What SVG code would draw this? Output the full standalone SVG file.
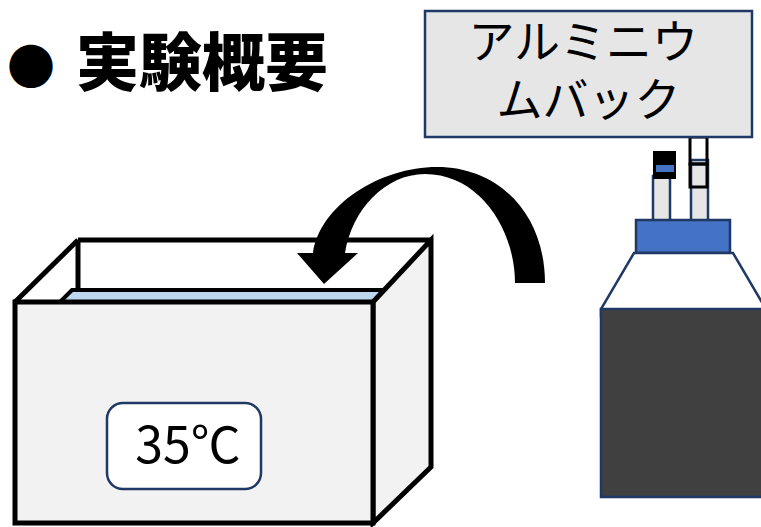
<svg xmlns="http://www.w3.org/2000/svg" width="761" height="527" viewBox="0 0 761 527">
  <style>
    .jp { font-family: "Noto Sans CJK JP", "Noto Sans", sans-serif; fill: #000; }
    .edge { stroke: #000; stroke-width: 5; stroke-linejoin: miter; }
    .navy { stroke: #1f3864; stroke-width: 2.5; }
  </style>
  <rect width="761" height="527" fill="#fff"/>

  <!-- title -->
  <g id="title">
    <text class="jp" x="7" y="84" font-size="48">●</text>
    <text class="jp" x="76" y="85" font-size="63" font-weight="900">実験概要</text>
  </g>

  <!-- incubator box -->
  <g id="incubator">
    <polygon points="15,302 78,240 431,240 373,302" fill="#fff"/>
    <line class="edge" x1="78" y1="240" x2="78" y2="290"/>
    <line class="edge" x1="78" y1="240" x2="431" y2="240"/>
    <line class="edge" x1="15" y1="302" x2="78" y2="240"/>
    <polygon points="60,302 72,290 385,290 373,302" fill="#bdd7ee" stroke="#000" stroke-width="4"/>
    <polygon class="edge" points="373,302 431,240 431,467 373,523" fill="#f2f2f2"/>
    <rect class="edge" x="15" y="302" width="358" height="221" fill="#f2f2f2"/>
  </g>

  <!-- temperature label -->
  <g id="temp">
    <rect x="107" y="403" width="154" height="86" rx="16" fill="#fff" class="navy"/>
    <text class="jp" x="188" y="463" font-size="50" text-anchor="middle">35℃</text>
  </g>

  <!-- bottle -->
  <g id="bottle">
    <rect x="653" y="176" width="17" height="46" fill="#e6e6e6" class="navy"/>
    <rect x="691" y="160" width="17" height="62" fill="#e6e6e6" class="navy"/>
    <rect x="653" y="151" width="23" height="28" fill="#000"/>
    <rect x="656" y="165" width="18" height="7" fill="#4472c4"/>
    <rect x="690" y="137" width="17" height="27" fill="none" stroke="#000" stroke-width="3"/>
    <rect x="690" y="164" width="17" height="23" fill="none" stroke="#000" stroke-width="3"/>
    <rect x="636" y="220" width="94" height="33" fill="#4472c4" class="navy"/>
    <polygon points="634,253 733,253 770,316 601,316 601,309" fill="#fff" class="navy"/>
    <rect x="601" y="309" width="200" height="188" fill="#404040" class="navy"/>
  </g>

  <!-- aluminium bag -->
  <g id="bag">
    <rect x="425" y="11" width="327" height="126" fill="#e6e6e6" class="navy"/>
    <text class="jp" font-size="46" text-anchor="middle">
      <tspan x="588.5" y="58">アルミニウ</tspan>
      <tspan x="588.5" y="116">ムバック</tspan>
    </text>
  </g>

  <!-- curved transfer arrow -->
  <g id="connectors">
    <path d="M545,283 C545,215 500,167 437,167 C380,167 320,205 313,253 L297,253 L324,284 L358,253 L345,253 C352,210 385,174 425,174 C480,174 515,230 515,283 Z" fill="#000"/>
  </g>
</svg>
